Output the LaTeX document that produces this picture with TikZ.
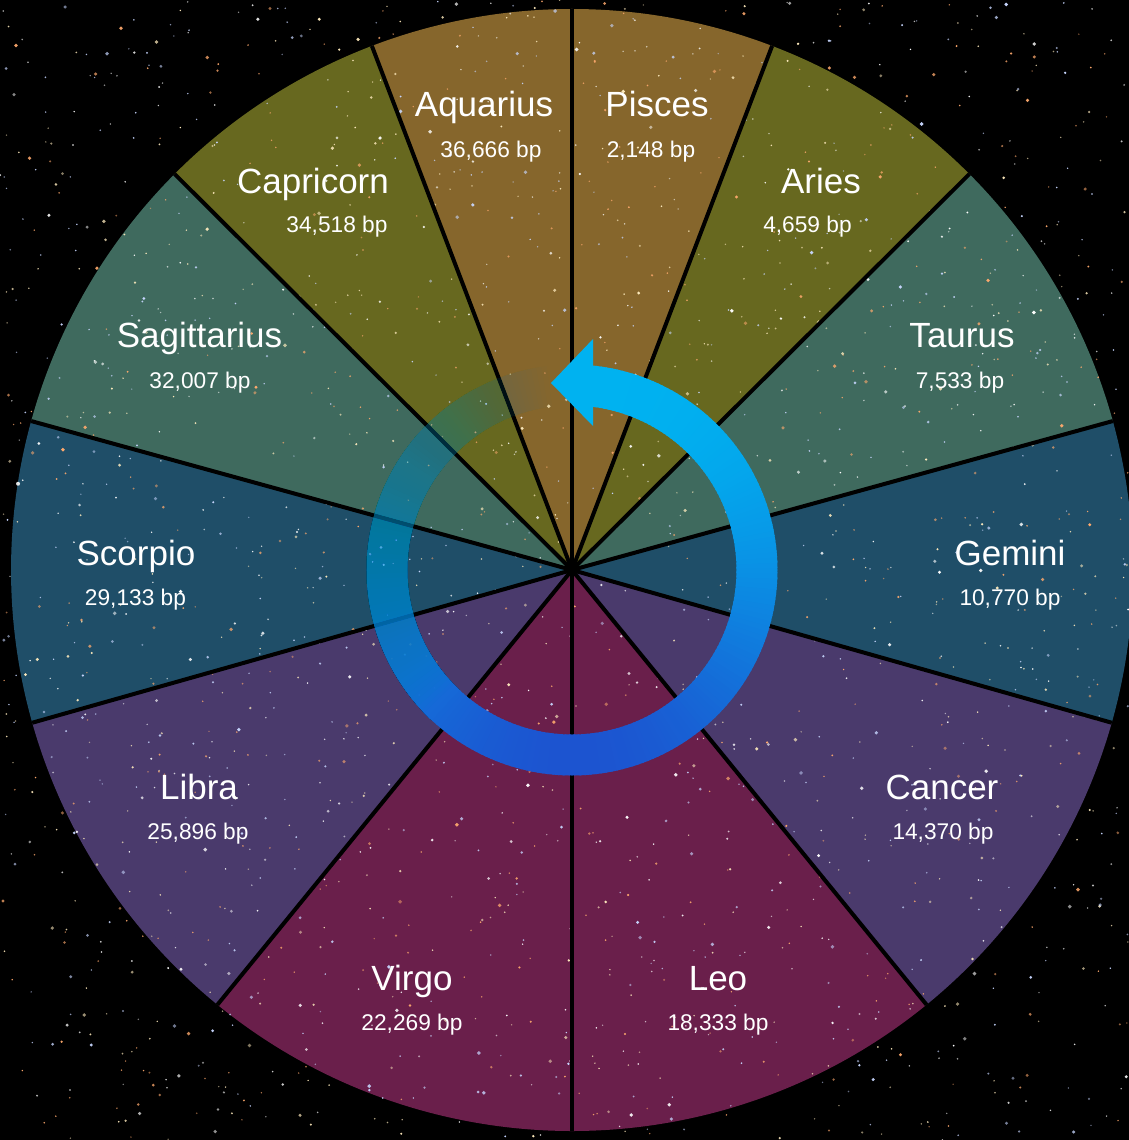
\documentclass[tikz,border=0pt]{standalone}
\usepackage{fontspec}
\setmainfont{Liberation Sans}

\definecolor{skygold}{RGB}{134,102,44}
\definecolor{skyolive}{RGB}{103,104,31}
\definecolor{skysage}{RGB}{63,106,94}
\definecolor{skyteal}{RGB}{31,78,104}
\definecolor{skyplum}{RGB}{74,58,108}
\definecolor{skywine}{RGB}{106,31,75}
\definecolor{ringtop}{RGB}{0,178,240}
\definecolor{ringbot}{RGB}{28,84,208}
\definecolor{star1}{RGB}{255,255,255}
\definecolor{star2}{RGB}{255,236,190}
\definecolor{star3}{RGB}{255,170,110}
\definecolor{star4}{RGB}{200,215,255}

\begin{document}
\begin{tikzpicture}[
    zname/.style = {text=white, font=\fontsize{9.96pt}{12pt}\selectfont, anchor=base, inner sep=0pt},
    zbp/.style = {text=white, font=\fontsize{6.46pt}{8pt}\selectfont, anchor=base, inner sep=0pt},
    spoke/.style = {black, line width=0.4mm},
    ringseg/.style = {line width=4.1mm},
]

% Fondo negro
\useasboundingbox (-5.72,-5.70) rectangle (5.57,5.70);
\fill[black] (-5.72,-5.70) rectangle (5.57,5.70);

% Sectores (mitad izquierda)
\fill[skygold]  (0,0) -- (90:5.61)    arc[start angle=90,    end angle=110.9, radius=5.61] -- cycle;
\fill[skyolive] (0,0) -- (110.9:5.61) arc[start angle=110.9, end angle=135.1, radius=5.61] -- cycle;
\fill[skysage]  (0,0) -- (135.1:5.61) arc[start angle=135.1, end angle=164.6, radius=5.61] -- cycle;
\fill[skyteal]  (0,0) -- (164.6:5.61) arc[start angle=164.6, end angle=195.8, radius=5.61] -- cycle;
\fill[skyplum]  (0,0) -- (195.8:5.61) arc[start angle=195.8, end angle=230.8, radius=5.61] -- cycle;
\fill[skywine]  (0,0) -- (230.8:5.61) arc[start angle=230.8, end angle=270,   radius=5.61] -- cycle;

% Sectores (mitad derecha)
\fill[skywine]  (0,0) -- (270:5.61)   arc[start angle=270,   end angle=309.2, radius=5.61] -- cycle;
\fill[skyplum]  (0,0) -- (309.2:5.61) arc[start angle=309.2, end angle=344.2, radius=5.61] -- cycle;
\fill[skyteal]  (0,0) -- (344.2:5.61) arc[start angle=344.2, end angle=375.4, radius=5.61] -- cycle;
\fill[skysage]  (0,0) -- (15.4:5.61)  arc[start angle=15.4,  end angle=44.9,  radius=5.61] -- cycle;
\fill[skyolive] (0,0) -- (44.9:5.61)  arc[start angle=44.9,  end angle=69.1,  radius=5.61] -- cycle;
\fill[skygold]  (0,0) -- (69.1:5.61)  arc[start angle=69.1,  end angle=90,    radius=5.61] -- cycle;

% Estrellas
\pgfmathsetseed{4242}
\foreach \i in {1,...,2000}{
    \pgfmathsetmacro{\sx}{-5.72+11.29*rnd}
    \pgfmathsetmacro{\sy}{-5.70+11.40*rnd}
    \pgfmathsetmacro{\sr}{0.008+0.012*rnd^4}
    \pgfmathsetmacro{\so}{0.5+0.5*rnd}
    \pgfmathrandominteger{\sc}{1}{4}
    \fill[star\sc, opacity=\so] (\sx,\sy) circle[radius=\sr];
}

% Radios
\draw[spoke] (0,0) -- (90:5.61);
\draw[spoke] (0,0) -- (110.9:5.61);
\draw[spoke] (0,0) -- (135.1:5.61);
\draw[spoke] (0,0) -- (164.6:5.61);
\draw[spoke] (0,0) -- (195.8:5.61);
\draw[spoke] (0,0) -- (230.8:5.61);
\draw[spoke] (0,0) -- (270:5.61);
\draw[spoke] (0,0) -- (309.2:5.61);
\draw[spoke] (0,0) -- (344.2:5.61);
\draw[spoke] (0,0) -- (15.4:5.61);
\draw[spoke] (0,0) -- (44.9:5.61);
\draw[spoke] (0,0) -- (69.1:5.61);

% Flecha circular: cola translúcida (arcos apilados)
\foreach \k in {1,...,85}{
    \pgfmathsetmacro{\a}{95.5+1.5*\k}
    \pgfmathsetmacro{\al}{min(1,0.01172/(1-(\k-1)*0.01172))}
    \pgfmathsetmacro{\tt}{100*(1-((1-sin(\a))/2)^1.5)}
    \draw[ringseg, ringtop!\tt!ringbot, opacity=\al]
        (\a:1.85) arc[start angle=\a, end angle=227, radius=1.85];
}
% Flecha circular: parte opaca
\foreach \a in {224,225.5,...,443}{
    \pgfmathsetmacro{\tt}{100*(1-((1-sin(\a))/2)^1.5)}
    \draw[ringseg, ringtop!\tt!ringbot]
        (\a:1.85) arc[start angle=\a, end angle=\a+2, radius=1.85];
}
\fill[ringtop] (-0.21,1.87) -- (0.21,2.31) -- (0.21,1.44) -- cycle;

% Nombres y longitudes
\node[zname] (aquarius)    at (-0.88,4.53) {Aquarius};
\node[zbp]   (aquariusbp)  at (-0.81,4.13) {36,666 bp};
\node[zname] (pisces)      at (0.85,4.53)  {Pisces};
\node[zbp]   (piscesbp)    at (0.79,4.13)  {2,148 bp};
\node[zname] (capricorn)   at (-2.59,3.76) {Capricorn};
\node[zbp]   (capricornbp) at (-2.35,3.37) {34,518 bp};
\node[zname] (aries)       at (2.49,3.76)  {Aries};
\node[zbp]   (ariesbp)     at (2.355,3.37) {4,659 bp};
\node[zname] (sagittarius) at (-3.725,2.23) {Sagittarius};
\node[zbp]   (sagittariusbp) at (-3.72,1.82) {32,007 bp};
\node[zname] (taurus)      at (3.90,2.23)  {Taurus};
\node[zbp]   (taurusbp)    at (3.88,1.82)  {7,533 bp};
\node[zname] (scorpio)     at (-4.36,0.05) {Scorpio};
\node[zbp]   (scorpiobp)   at (-4.365,-0.35) {29,133 bp};
\node[zname] (gemini)      at (4.38,0.05)  {Gemini};
\node[zbp]   (geminibp)    at (4.38,-0.35) {10,770 bp};
\node[zname] (libra)       at (-3.73,-2.29) {Libra};
\node[zbp]   (librabp)     at (-3.74,-2.69) {25,896 bp};
\node[zname] (cancer)      at (3.70,-2.29) {Cancer};
\node[zbp]   (cancerbp)    at (3.71,-2.69) {14,370 bp};
\node[zname] (virgo)       at (-1.60,-4.20) {Virgo};
\node[zbp]   (virgobp)     at (-1.60,-4.60) {22,269 bp};
\node[zname] (leo)         at (1.46,-4.20) {Leo};
\node[zbp]   (leobp)       at (1.46,-4.60) {18,333 bp};

\end{tikzpicture}
\end{document}
